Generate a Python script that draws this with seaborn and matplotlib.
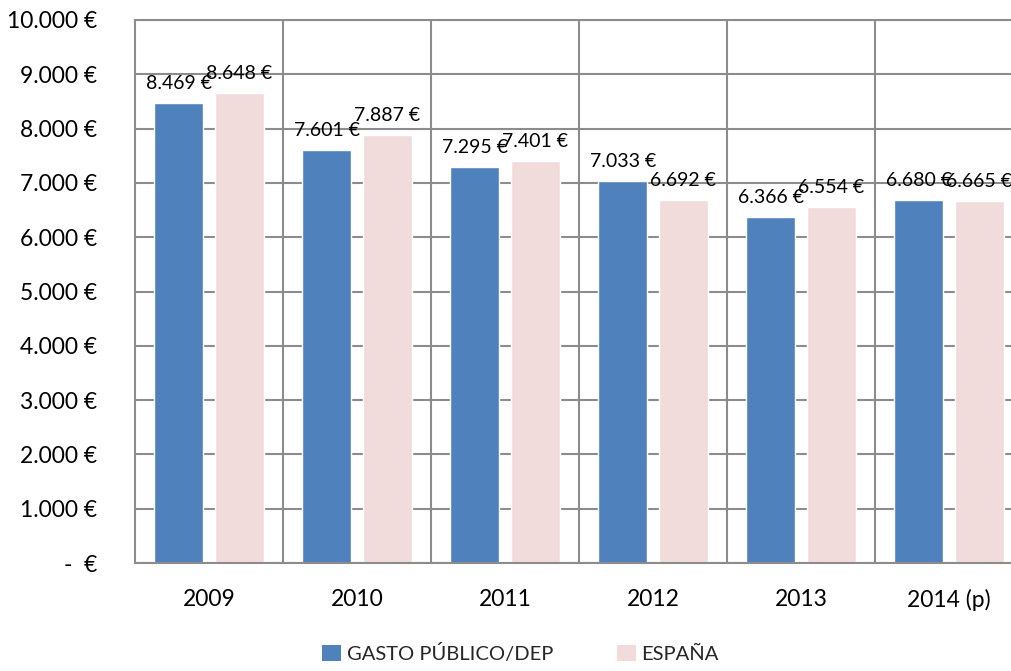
import matplotlib
matplotlib.use("Agg")
import matplotlib.pyplot as plt
import seaborn as sns
import pandas as pd
from matplotlib.ticker import FuncFormatter, FixedLocator
from matplotlib.patches import Patch

years = ["2009", "2010", "2011", "2012", "2013", "2014 (p)"]
gasto = [8469, 7601, 7295, 7033, 6366, 6680]
espana = [8648, 7887, 7401, 6692, 6554, 6665]
series_names = ["GASTO PÚBLICO/DEP", "ESPAÑA"]
colors = ["#4F81BD", "#F2DCDB"]

def fmt_eur(v):
    if v == 0:
        return "-  €"
    return f"{int(round(v)):,}".replace(",", ".") + " €"

df = pd.DataFrame({
    "year": years * 2,
    "value": gasto + espana,
    "serie": [series_names[0]] * len(years) + [series_names[1]] * len(years),
})

sns.set_style("white")
plt.rcParams["font.family"] = ["Lato", "DejaVu Sans"]

fig = plt.figure(figsize=(10.11, 6.71), dpi=100)
W, H = 1011, 671
ax = fig.add_axes([135 / W, (H - 563) / H, 888 / W, (563 - 20) / H])

sns.barplot(data=df, x="year", y="value", hue="serie", order=years,
            hue_order=series_names, palette=colors, width=0.82, gap=0.2,
            saturation=1, ax=ax, legend=False, errorbar=None)

ax.set_ylim(0, 10000)
ax.set_xlim(-0.5, len(years) - 0.5)
ax.set_yticks(range(0, 10001, 1000))
ax.yaxis.set_major_formatter(FuncFormatter(lambda v, p: fmt_eur(v)))
ax.xaxis.set_minor_locator(FixedLocator([i + 0.5 for i in range(len(years))]))
ax.set_axisbelow(True)
grid_c = "#8C8C8C"
ax.grid(axis="y", which="major", color=grid_c, linewidth=1.5)
ax.grid(axis="x", which="minor", color=grid_c, linewidth=1.5)
ax.grid(axis="x", which="major", visible=False)
for s in ["left", "bottom", "top", "right"]:
    ax.spines[s].set_color(grid_c)
    ax.spines[s].set_linewidth(1.5)
ax.tick_params(axis="y", labelsize=16.5, length=0, pad=27, colors="black")
ax.tick_params(axis="x", which="major", labelsize=16.5, length=0, pad=19, colors="black")
ax.tick_params(axis="x", which="minor", length=0)
ax.set_xlabel("")
ax.set_ylabel("")

for container in ax.containers:
    for bar in container:
        h = bar.get_height()
        ax.annotate(fmt_eur(h), (bar.get_x() + bar.get_width() / 2, h),
                    xytext=(0, 8), textcoords="offset points",
                    ha="center", va="bottom", fontsize=14, color="black")

handles = [Patch(facecolor=c, edgecolor="none") for c in colors]
fig.legend(handles, series_names, loc="lower center", bbox_to_anchor=(0.515, -0.015),
           ncol=2, frameon=False, fontsize=14.5, handlelength=0.9, handleheight=0.9,
           handletextpad=0.3, columnspacing=3.2)

fig.savefig("out.png", dpi=100)
